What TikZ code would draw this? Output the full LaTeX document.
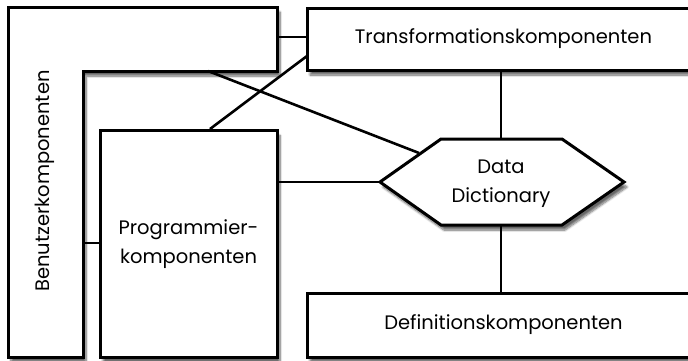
\documentclass[tikz,border=0pt]{standalone}
\usepackage{fontspec}
\setmainfont{Poppins}
\usetikzlibrary{shadows.blur}

\tikzset{
  comp/.style={draw, line width=3pt, fill=white,
    blur shadow={shadow xshift=3pt, shadow yshift=-5pt, shadow blur steps=8, shadow opacity=60}},
  link/.style={line width=2.6pt},
  lbl/.style={font=\fontsize{19.5}{29}\selectfont, align=center}
}

\begin{document}
\begin{tikzpicture}[x=1pt, y=-1pt]
    \useasboundingbox (0,0) rectangle (688,360);
    \clip (0,0) rectangle (688,360);

    % Benutzerkomponenten (L shape)
    \draw [comp] (8,7) -- (277,7) -- (277,71) -- (83,71) -- (83,357) -- (8,357) -- cycle;
    \node [lbl, rotate=90] (ben) at (45,181) {Benutzerkomponenten};
    \coordinate (ben-top) at (277,37);
    \coordinate (ben-in) at (208,71);
    \coordinate (ben-bar) at (83,243);

    % Boxes
    \node [comp, lbl, minimum width=393pt, minimum height=62pt] (trans) at (503.5,39)
        {Transformationskomponenten};
    \node [comp, lbl, minimum width=393pt, minimum height=64pt] (defn) at (503.5,325)
        {Definitionskomponenten};
    \node [comp, lbl, minimum width=177pt, minimum height=227pt] (prog) at (188.5,244)
        {Programmier-\\komponenten};

    % Data Dictionary (hexagon)
    \draw [comp] (380,182) -- (441,139) -- (562,139) -- (624,182) -- (562,225) -- (441,225) -- cycle;
    \node [lbl] (dd) at (501,184) {Data\\Dictionary};
    \coordinate (dd-w) at (380,182);
    \coordinate (dd-n) at (501,139);
    \coordinate (dd-s) at (501,225);
    \coordinate (dd-nw) at (419,153);
    \coordinate (trans-w2) at (307,56);
    \coordinate (prog-n2) at (210,129);

    % Connections
    \draw [link] (ben-top) -- (ben-top -| trans.west);
    \draw [link] (trans-w2) -- (prog-n2);
    \draw [link] (ben-in) -- (dd-nw);
    \draw [link] (dd-w -| prog.east) -- (dd-w);
    \draw [link] (dd-n |- trans.south) -- (dd-n);
    \draw [link] (dd-s) -- (dd-s |- defn.north);
    \draw [link] (ben-bar) -- (ben-bar -| prog.west);
\end{tikzpicture}
\end{document}
